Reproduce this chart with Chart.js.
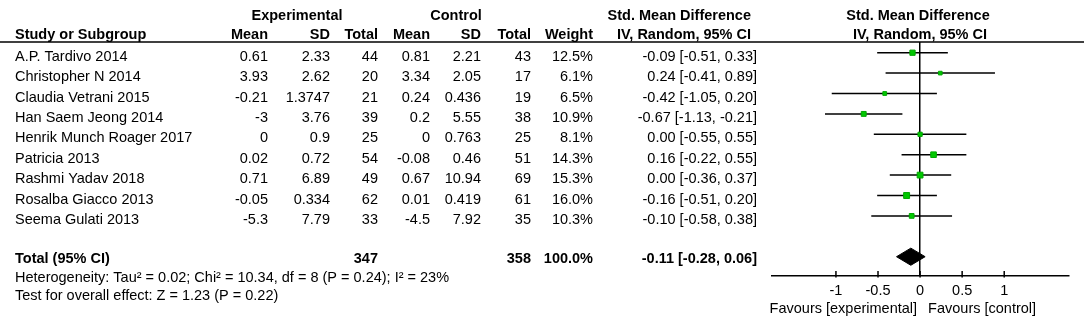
<!DOCTYPE html>
<html>
<head>
<meta charset="utf-8">
<script src="https://cdn.jsdelivr.net/npm/chart.js@4.4.1/dist/chart.umd.min.js"></script>
<style>
  html, body { margin: 0; padding: 0; background: #fff; }
  canvas { display: block; }
</style>
</head>
<body>
<canvas id="forest" width="1084" height="328"></canvas>
<script>
const studies = ["A.P. Tardivo 2014", "Christopher N 2014", "Claudia Vetrani 2015", "Han Saem Jeong 2014",
  "Henrik Munch Roager 2017", "Patricia 2013", "Rashmi Yadav 2018", "Rosalba Giacco 2013", "Seema Gulati 2013"];
const expMean = [0.61, 3.93, -0.21, -3, 0, 0.02, 0.71, -0.05, -5.3];
const expSD = [2.33, 2.62, 1.3747, 3.76, 0.9, 0.72, 6.89, 0.334, 7.79];
const expTotal = [44, 20, 21, 39, 25, 54, 49, 62, 33];
const ctlMean = [0.81, 3.34, 0.24, 0.2, 0, -0.08, 0.67, 0.01, -4.5];
const ctlSD = [2.21, 2.05, 0.436, 5.55, 0.763, 0.46, 10.94, 0.419, 7.92];
const ctlTotal = [43, 17, 19, 38, 25, 51, 69, 61, 35];
const weights = [12.5, 6.1, 6.5, 10.9, 8.1, 14.3, 15.3, 16.0, 10.3];
const smd = [-0.09, 0.24, -0.42, -0.67, 0.00, 0.16, 0.00, -0.16, -0.10];
const ciLow = [-0.51, -0.41, -1.05, -1.13, -0.55, -0.22, -0.36, -0.51, -0.58];
const ciHigh = [0.33, 0.89, 0.20, -0.21, 0.55, 0.55, 0.37, 0.20, 0.38];

const totalEst = -0.11;
const totalLow = -0.28;
const totalHigh = 0.06;
const TOTAL_ROW = 10;

const heterogeneity = "Heterogeneity: Tau\u00b2 = 0.02; Chi\u00b2 = 10.34, df = 8 (P = 0.24); I\u00b2 = 23%";
const overallTest = "Test for overall effect: Z = 1.23 (P = 0.22)";
const xTicks = [-1, -0.5, 0, 0.5, 1];

const FONT = '"Liberation Sans", Arial, sans-serif';
const FONT_SIZE = 14.5;
const DIAMOND_HALF = 0.42;

function fmtCI(est, lo, hi) {
  return est.toFixed(2) + " [" + lo.toFixed(2) + ", " + hi.toFixed(2) + "]";
}

function sum(arr) {
  return arr.reduce((a, b) => a + b, 0);
}

// one line dataset per confidence interval
const ciSets = studies.map((s, i) => ({
  type: 'scatter',
  data: [{x: ciLow[i], y: i}, {x: ciHigh[i], y: i}],
  showLine: true,
  borderColor: '#000',
  borderWidth: 1.5,
  pointRadius: 0,
  order: 2
}));

const squareSet = {
  type: 'scatter',
  data: smd.map((v, i) => ({x: v, y: i})),
  pointStyle: 'rect',
  pointRadius: weights.map(w => 1.05 * Math.sqrt(w)),
  backgroundColor: '#00c800',
  borderColor: '#00a800',
  borderWidth: 1,
  order: 0
};

const diamondSet = {
  type: 'scatter',
  data: [
    {x: totalLow, y: TOTAL_ROW},
    {x: totalEst, y: TOTAL_ROW - DIAMOND_HALF},
    {x: totalHigh, y: TOTAL_ROW},
    {x: totalEst, y: TOTAL_ROW + DIAMOND_HALF},
    {x: totalLow, y: TOTAL_ROW}
  ],
  showLine: true,
  fill: 'shape',
  backgroundColor: '#000',
  borderColor: '#000',
  borderWidth: 1,
  pointRadius: 0,
  order: 1
};

function drawText(ctx, str, x, y, align, bold) {
  ctx.font = (bold ? 'bold ' : '') + FONT_SIZE + 'px ' + FONT;
  ctx.textAlign = align;
  ctx.textBaseline = 'middle';
  ctx.fillStyle = '#000';
  ctx.fillText(str, x, y);
}

const tablePlugin = {
  id: 'table',
  afterDraw(chart) {
    const ctx = chart.ctx;
    const xs = chart.scales.x;
    const ys = chart.scales.y;
    const area = chart.chartArea;
    ctx.save();

    // header rule
    ctx.strokeStyle = '#000';
    ctx.lineWidth = 1.5;
    ctx.beginPath();
    ctx.moveTo(0, area.top);
    ctx.lineTo(chart.width, area.top);
    ctx.stroke();

    // axis tick marks + labels
    xTicks.forEach(v => {
      const px = xs.getPixelForValue(v);
      ctx.beginPath();
      ctx.moveTo(px, area.bottom - 5);
      ctx.lineTo(px, area.bottom + 1.5);
      ctx.stroke();
      drawText(ctx, String(v), px, area.bottom + 15, 'center', false);
    });
    const zero = xs.getPixelForValue(0);
    drawText(ctx, "Favours [experimental]", zero - 3, area.bottom + 33, 'right', false);
    drawText(ctx, "Favours [control]", zero + 8, area.bottom + 33, 'left', false);

    // headers
    drawText(ctx, "Experimental", 297, 16, 'center', true);
    drawText(ctx, "Control", 456, 16, 'center', true);
    drawText(ctx, "Std. Mean Difference", 751, 16, 'right', true);
    drawText(ctx, "Std. Mean Difference", 918, 16, 'center', true);
    drawText(ctx, "Study or Subgroup", 15, 35, 'left', true);
    drawText(ctx, "Mean", 268, 35, 'right', true);
    drawText(ctx, "SD", 330, 35, 'right', true);
    drawText(ctx, "Total", 378, 35, 'right', true);
    drawText(ctx, "Mean", 430, 35, 'right', true);
    drawText(ctx, "SD", 481, 35, 'right', true);
    drawText(ctx, "Total", 531, 35, 'right', true);
    drawText(ctx, "Weight", 593, 35, 'right', true);
    drawText(ctx, "IV, Random, 95% CI", 751, 35, 'right', true);
    drawText(ctx, "IV, Random, 95% CI", 920, 35, 'center', true);

    // study rows
    studies.forEach((s, i) => {
      const py = ys.getPixelForValue(i) + 4;
      drawText(ctx, s, 15, py, 'left', false);
      drawText(ctx, String(expMean[i]), 268, py, 'right', false);
      drawText(ctx, String(expSD[i]), 330, py, 'right', false);
      drawText(ctx, String(expTotal[i]), 378, py, 'right', false);
      drawText(ctx, String(ctlMean[i]), 430, py, 'right', false);
      drawText(ctx, String(ctlSD[i]), 481, py, 'right', false);
      drawText(ctx, String(ctlTotal[i]), 531, py, 'right', false);
      drawText(ctx, weights[i].toFixed(1) + "%", 593, py, 'right', false);
      drawText(ctx, fmtCI(smd[i], ciLow[i], ciHigh[i]), 757, py, 'right', false);
    });

    // total row
    const ty = ys.getPixelForValue(TOTAL_ROW) + 2.5;
    drawText(ctx, "Total (95% CI)", 15, ty, 'left', true);
    drawText(ctx, String(sum(expTotal)), 378, ty, 'right', true);
    drawText(ctx, String(sum(ctlTotal)), 531, ty, 'right', true);
    drawText(ctx, sum(weights).toFixed(1) + "%", 593, ty, 'right', true);
    drawText(ctx, fmtCI(totalEst, totalLow, totalHigh), 757, ty, 'right', true);
    drawText(ctx, heterogeneity, 15, 277.5, 'left', false);
    drawText(ctx, overallTest, 15, 296, 'left', false);

    ctx.restore();
  }
};

const forestChart = new Chart(document.getElementById('forest'), {
  type: 'scatter',
  data: { datasets: [squareSet, diamondSet, ...ciSets] },
  options: {
    responsive: false,
    animation: false,
    layout: { autoPadding: false, padding: { left: 772, right: 15, top: 42, bottom: 52 } },
    plugins: { legend: { display: false }, tooltip: { enabled: false } },
    scales: {
      x: {
        type: 'linear',
        min: -1.76,
        max: 1.77,
        afterBuildTicks: axis => { axis.ticks = xTicks.map(v => ({ value: v })); },
        ticks: { display: false },
        grid: {
          drawTicks: false,
          color: c => (c.tick && c.tick.value === 0) ? '#000' : 'rgba(0,0,0,0)',
          lineWidth: 1.5
        },
        border: { color: '#000', width: 1.5 }
      },
      y: {
        type: 'linear',
        display: false,
        reverse: true,
        min: -0.525,
        max: 10.946
      }
    }
  },
  plugins: [tablePlugin]
});
</script>
</body>
</html>
